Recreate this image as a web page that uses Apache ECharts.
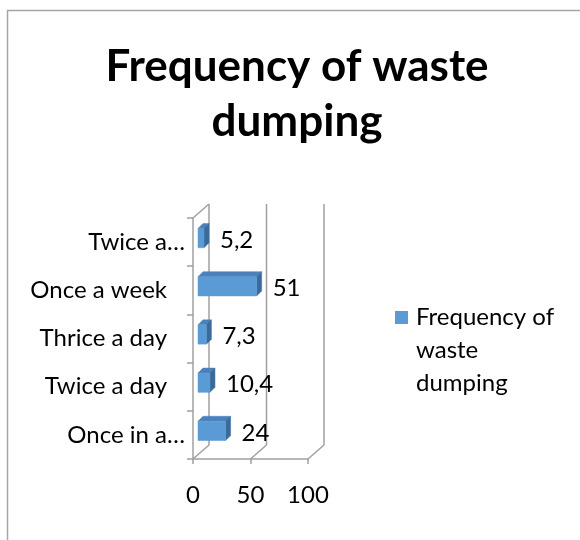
<!DOCTYPE html>
<html>
<head>
<meta charset="utf-8">
<script src="https://cdn.jsdelivr.net/npm/echarts@6/dist/echarts.min.js"></script>
<style>
html, body { margin: 0; padding: 0; background: #fff; }
#chart { width: 580px; height: 540px; }
</style>
</head>
<body>
<div id="chart"></div>
<script>
// data
const categories = ['Once in a…', 'Twice a day', 'Thrice a day', 'Once a week', 'Twice a…']
const values = [24, 10.4, 7.3, 51, 5.2]
const truncated = ['Once in a…', 'Twice a…']
const gridValues = [0, 50, 100]
const seriesName = 'Frequency of waste dumping'

const font = 'Lato'
const fontSize = 24
const lineColor = '#a0a0a0'

// fake 3d offsets
const wallDx = 16, wallDy = -14
const barDx = 5, barDy = -5
const barOffX = 5, barOffY = -4

const chart = echarts.init(document.getElementById('chart'))

function renderWall(params, api) {
  const cs = params.coordSys
  const v = api.value(0)
  const x = api.coord([v, 0])[0]
  const top = cs.y
  const bottom = cs.y + cs.height
  const style = { stroke: lineColor, lineWidth: 1.5 }
  const children = [
    { type: 'line', shape: { x1: x + wallDx, y1: top + wallDy, x2: x + wallDx, y2: bottom + wallDy }, style },
    { type: 'line', shape: { x1: x, y1: bottom, x2: x + wallDx, y2: bottom + wallDy }, style }
  ]
  if (v === 0) {
    children.push({ type: 'line', shape: { x1: x, y1: top, x2: x + wallDx, y2: top + wallDy }, style })
  }
  return { type: 'group', children }
}

function renderBar(params, api) {
  const idx = api.value(1)
  const end = api.coord([api.value(0), idx])
  const start = api.coord([0, idx])
  const h = api.size([0, 1])[1] * 0.4
  const x = start[0] + barOffX
  const w = end[0] - start[0]
  const y = end[1] - h / 2 + barOffY
  const label = String(values[params.dataIndex]).replace('.', ',')
  return {
    type: 'group',
    children: [
      {
        type: 'polygon',
        shape: { points: [[x, y], [x + w, y], [x + w + barDx, y + barDy], [x + barDx, y + barDy]] },
        style: { fill: '#4a80bb', stroke: '#4a80bb', lineWidth: 0.5 }
      },
      {
        type: 'polygon',
        shape: { points: [[x + w, y], [x + w + barDx, y + barDy], [x + w + barDx, y + h + barDy], [x + w, y + h]] },
        style: { fill: '#3a6a9a', stroke: '#3a6a9a', lineWidth: 0.5 }
      },
      {
        type: 'rect',
        shape: { x: x, y: y, width: w, height: h },
        style: { fill: '#5b9bd5', stroke: '#5b9bd5', lineWidth: 0.5 }
      },
      {
        type: 'text',
        style: {
          text: label,
          x: x + w + 16,
          y: y + h / 2 + 2,
          verticalAlign: 'middle',
          fontSize: fontSize,
          fontFamily: font,
          fill: '#000'
        }
      }
    ]
  }
}

chart.setOption({
  animation: false,
  title: {
    text: 'Frequency of waste\ndumping',
    left: 297,
    top: 39,
    padding: 0,
    textAlign: 'center',
    textStyle: {
      fontSize: 44,
      fontWeight: 'bold',
      fontFamily: font,
      lineHeight: 55,
      color: '#000'
    }
  },
  legend: {
    left: 395,
    top: 235,
    padding: 0,
    orient: 'vertical',
    icon: 'rect',
    itemWidth: 13,
    itemHeight: 13,
    data: [{ name: seriesName, itemStyle: { color: '#5b9bd5' } }],
    // two blank lines first so the icon sits on the first text line
    formatter: () => '\n\nFrequency of\nwaste\ndumping',
    textStyle: {
      fontSize: fontSize,
      fontFamily: font,
      color: '#000',
      lineHeight: 33,
      padding: [0, 0, 0, 3]
    }
  },
  graphic: [{
    type: 'rect',
    shape: { x: 7.5, y: 10.5, width: 800, height: 800 },
    style: { fill: 'none', stroke: '#a6a6a6', lineWidth: 1.5 },
    silent: true
  }],
  grid: {
    left: 193,
    right: 272,
    top: 218,
    bottom: 81,
    outerBoundsMode: 'none'
  },
  xAxis: {
    type: 'value',
    min: 0,
    max: 100,
    interval: 50,
    axisLine: { show: true, lineStyle: { color: lineColor, width: 1.5 } },
    axisTick: { show: true, length: 5, lineStyle: { color: lineColor, width: 1.5 } },
    splitLine: { show: false },
    axisLabel: { fontSize: fontSize, fontFamily: font, color: '#000', margin: 24 }
  },
  yAxis: {
    type: 'category',
    data: categories,
    axisLine: { show: true, lineStyle: { color: lineColor, width: 1.5 } },
    axisTick: { show: true, length: 6, lineStyle: { color: lineColor, width: 1.5 } },
    axisLabel: {
      margin: 8,
      formatter: (v) => truncated.includes(v) ? '{t|' + v + '}' : '{n|' + v + '}',
      rich: {
        t: { fontSize: fontSize, fontFamily: font, color: '#000' },
        n: { fontSize: fontSize, fontFamily: font, color: '#000', padding: [0, 18, 0, 0] }
      }
    }
  },
  series: [
    {
      name: 'walls',
      type: 'custom',
      clip: false,
      silent: true,
      z: 1,
      renderItem: renderWall,
      data: gridValues.map(v => [v, 0])
    },
    {
      name: seriesName,
      type: 'custom',
      clip: false,
      z: 3,
      itemStyle: { color: '#5b9bd5' },
      renderItem: renderBar,
      data: values.map((v, i) => [v, i])
    }
  ]
})
</script>
</body>
</html>
